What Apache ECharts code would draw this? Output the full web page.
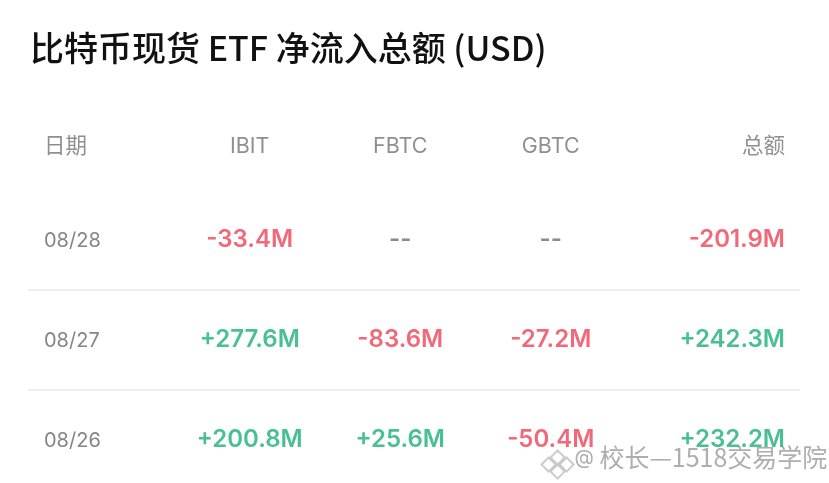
<!DOCTYPE html>
<html><head><meta charset="utf-8">
<script src="https://cdn.jsdelivr.net/npm/echarts@6/dist/echarts.min.js"></script>
<style>html,body{margin:0;padding:0;background:#fff}#c{width:829px;height:483px}</style>
</head><body><div id="c"></div>
<script>
const titleText = '比特币现货 ETF 净流入总额 (USD)';
const columns = ['日期', 'IBIT', 'FBTC', 'GBTC', '总额'];
const dates = ['08/28', '08/27', '08/26'];
const ibit = [-33.4, 277.6, 200.8];
const fbtc = [null, -83.6, 25.6];
const gbtc = [null, -27.2, -50.4];
const total = [-201.9, 242.3, 232.2];
const watermarkAt = '@';
const watermarkName = '校长—1518交易学院';

const RED = '#EE4358', GREEN = '#1AB078', DASH = '#6e6e6e';
const FONT = 'Inter, "Noto Sans CJK SC", sans-serif';
const CJK = '"Noto Sans CJK SC", sans-serif';
const valueCols = [ibit, fbtc, gbtc, total];

function fmt(v) { return v == null ? '--' : (v > 0 ? '+' : '') + v.toFixed(1) + 'M'; }
function col(v) { return v == null ? DASH : (v >= 0 ? GREEN : RED); }

const colAlign = ['left', 'center', 'center', 'center', 'right'];
const colOffset = [-55.25, 0, 0, 0, 83.75];

const series = [];
// header row (row index 0)
columns.forEach((name, c) => {
  series.push({
    type: 'scatter', xAxisIndex: 0, yAxisIndex: 0, symbolSize: 0, silent: true,
    data: [[c, 0]],
    label: { show: true, position: 'inside', formatter: name, align: colAlign[c],
      offset: [colOffset[c], 7], color: '#737373', fontSize: 21.5, fontFamily: FONT }
  });
});
// date column
series.push({
  type: 'scatter', xAxisIndex: 0, yAxisIndex: 0, symbolSize: 0, silent: true,
  data: dates.map((d, r) => [0, r + 1, d]),
  label: { show: true, position: 'inside', formatter: p => p.data[2], align: 'left',
    offset: [colOffset[0], 1], color: '#666', fontSize: 20, fontFamily: FONT }
});
// value columns
valueCols.forEach((arr, i) => {
  const c = i + 1;
  series.push({
    type: 'scatter', xAxisIndex: 0, yAxisIndex: 0, symbolSize: 0, silent: true,
    data: arr.map((v, r) => ({
      value: [c, r + 1],
      label: { formatter: fmt(v), color: col(v) }
    })),
    label: { show: true, position: 'inside', align: colAlign[c], offset: [colOffset[c], 0],
      fontSize: 24, fontWeight: 600, fontFamily: FONT }
  });
});
// separators between data rows
for (let i = 1; i < dates.length; i++) {
  series.push({
    type: 'line', xAxisIndex: 1, yAxisIndex: 1, symbol: 'none', silent: true,
    data: [[0, i + 0.5], [1, i + 0.5]],
    lineStyle: { color: '#e8e8e8', width: 1.5 }
  });
}

const chart = echarts.init(document.getElementById('c'), null, { renderer: 'canvas' });
const diamond = (x, y) => ({ type: 'rect', shape: { x: -5, y: -5, width: 10, height: 10 },
  rotation: Math.PI / 4, x: x, y: y,
  style: { fill: 'none', stroke: 'rgba(195,195,195,0.85)', lineWidth: 2 } });
chart.setOption({
  backgroundColor: '#fff',
  animation: false,
  title: { text: titleText, left: 25, top: 26,
    textStyle: { fontSize: 34, fontWeight: 500, color: '#111', fontFamily: CJK } },
  grid: [
    { left: 24, right: 52.5, top: 140, height: 300 },
    { left: 28, right: 29, top: 140, height: 300 }
  ],
  xAxis: [
    { type: 'category', gridIndex: 0, data: columns, show: false },
    { type: 'value', gridIndex: 1, min: 0, max: 1, show: false }
  ],
  yAxis: [
    { type: 'value', gridIndex: 0, min: 0, max: dates.length, inverse: true, show: false },
    { type: 'value', gridIndex: 1, min: 0, max: dates.length, inverse: true, show: false }
  ],
  graphic: [
    { type: 'group', left: 538, top: 447, children: [
      diamond(16, 5), diamond(7, 12), diamond(25, 12), diamond(16, 19)
    ] },
    { type: 'text', left: 573, top: 446, silent: true,
      style: { text: watermarkAt, fontSize: 20, fill: 'rgba(165,165,165,0.9)', stroke: '#fff', lineWidth: 3,
        fontFamily: FONT } },
    { type: 'text', left: 598, top: 443, silent: true,
      style: { text: watermarkName, fontSize: 25, fill: 'rgba(165,165,165,0.9)', stroke: '#fff', lineWidth: 3,
        fontFamily: CJK } }
  ],
  series: series
});
</script></body></html>
